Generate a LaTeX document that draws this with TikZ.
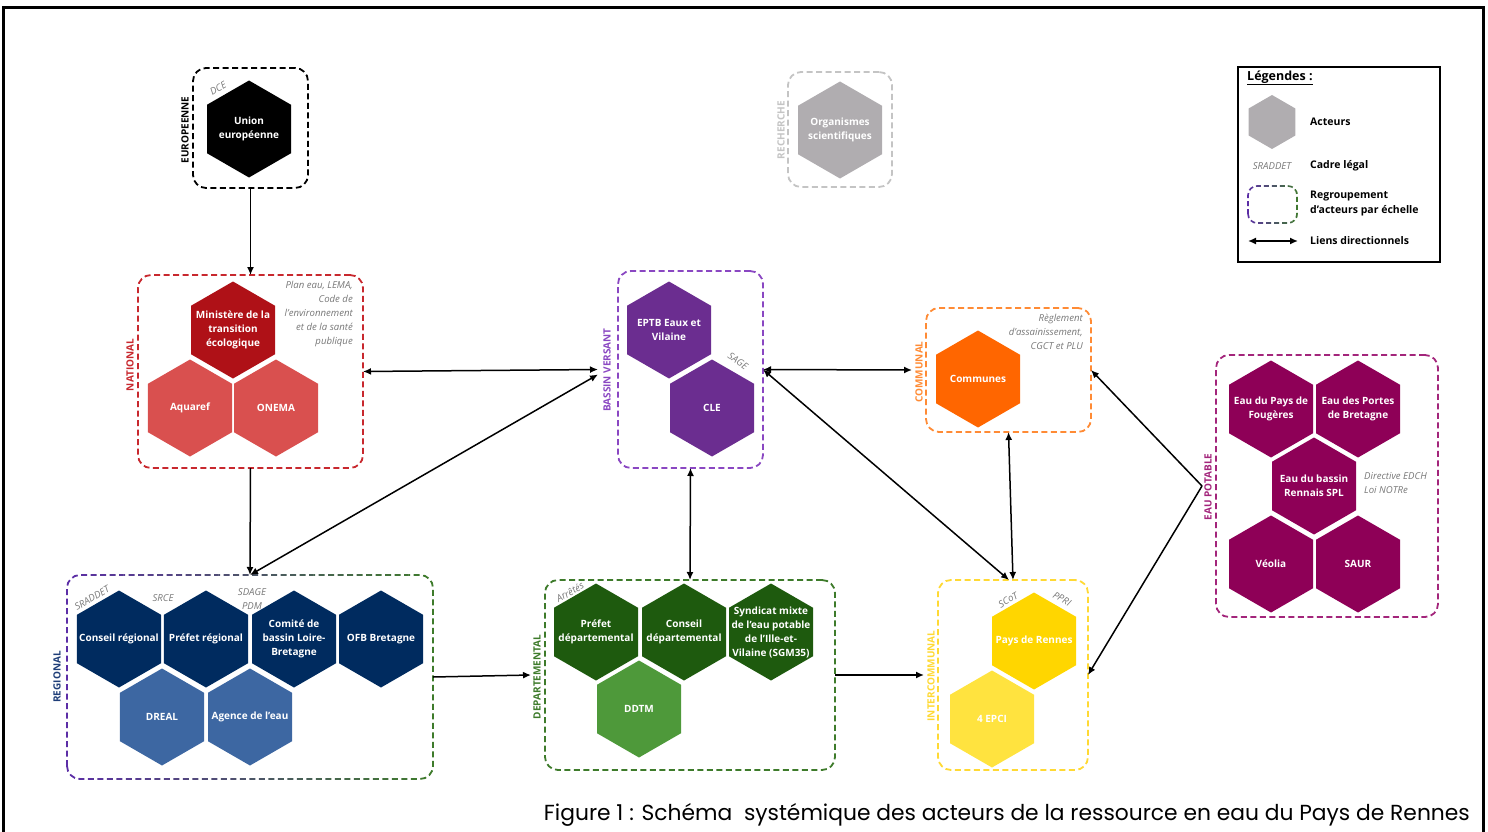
\documentclass[tikz,border=0pt]{standalone}
\usepackage{fontspec}
\setmainfont{Open Sans}
\newfontfamily\capfont{Poppins}
\usetikzlibrary{shapes.geometric,arrows.meta,fit}
\definecolor{euF}{HTML}{000000}
\definecolor{resF}{HTML}{B0ADB0}
\definecolor{resL}{HTML}{C4C4C4}
\definecolor{natD}{HTML}{AF1117}
\definecolor{natL}{HTML}{D9504F}
\definecolor{natB}{HTML}{C8282E}
\definecolor{bvF}{HTML}{6B2D90}
\definecolor{bvB}{HTML}{8A47C2}
\definecolor{comF}{HTML}{FF6600}
\definecolor{comB}{HTML}{FF8B35}
\definecolor{epF}{HTML}{8E0057}
\definecolor{epB}{HTML}{A3257B}
\definecolor{regD}{HTML}{002B5F}
\definecolor{regL}{HTML}{3D67A2}
\definecolor{regT}{HTML}{1F3E78}
\definecolor{gradA}{HTML}{5C2EA6}
\definecolor{gradB}{HTML}{3E7B2B}
\definecolor{depD}{HTML}{1E5A0E}
\definecolor{depL}{HTML}{4E993A}
\definecolor{depB}{HTML}{3E7B2B}
\definecolor{icD}{HTML}{FFD600}
\definecolor{icL}{HTML}{FFE33F}
\definecolor{icB}{HTML}{FFD934}
\definecolor{legal}{HTML}{777777}
\newcommand\hexfont{\bfseries\fontsize{10}{14}\selectfont}
\newcommand\lblfont{\bfseries\fontsize{10}{11}\selectfont}
\newcommand\legfont{\itshape\fontsize{9.6}{14}\selectfont}
\tikzset{
  hex/.style={regular polygon, regular polygon sides=6, shape border rotate=30,
    minimum size=97pt, inner sep=0pt, outer sep=0pt, fill=#1},
  htxt/.style={text=white, font=\hexfont, align=center, inner sep=0pt},
  grp/.style={draw=#1, dash pattern=on 6pt off 3.5pt, line width=1.8pt,
    rounded corners=13pt, inner sep=0pt, outer sep=0pt},
  grpin/.style={inner sep=0pt, outer sep=0pt},
  gline/.style={dash pattern=on 6pt off 3.5pt, line width=1.8pt, rounded corners=13pt},
  scale lbl/.style={rotate=90, font=\lblfont, text=#1, inner sep=0pt},
  legaltxt/.style={font=\legfont, text=legal, inner sep=0pt},
  a1/.style={line width=1.5pt, -{Latex[length=8pt,width=7pt]}},
  a2/.style={line width=1.5pt, {Latex[length=8pt,width=7pt]}-{Latex[length=8pt,width=7pt]}},
  ltxt/.style={font=\bfseries\fontsize{10.5}{15}\selectfont, anchor=west, align=left, inner sep=0pt}
}
\begin{document}
\begin{tikzpicture}[x=1pt,y=-1pt]
\useasboundingbox (0,0) rectangle (1488,832);
% outer frame
\draw[line width=3pt] (3,832) -- (3,8) -- (1483,8) -- (1483,832);

% ---------- group boxes ----------
\node[grp=black, fit={(193,68) (308,188)}] (eu) {};
\node[grp=resL, fit={(788,72) (892,187)}] (res) {};
\node[grp=natB, fit={(138,275) (363,468)}] (nat) {};
\node[grp=bvB, fit={(618,271) (763,468)}] (bv) {};
\node[grp=comB, fit={(926,308) (1091,432)}] (com) {};
\node[grp=epB, fit={(1216,355) (1438,617)}] (ep) {};
\node[grpin, fit={(67,575) (433,779)}] (reg) {};
\node[grp=depB, fit={(545,580) (835,770)}] (dep) {};
\node[grp=icB, fit={(938,580) (1088,770)}] (ic) {};
\node[grpin, fit={(1248,186) (1297,223)}] (lgbox) {};

% gradient dashed boxes
\foreach \i in {0,...,23}{
  \pgfmathsetmacro\pct{100*\i/23}
  \pgfmathsetmacro\xa{60+\i*(380/24)}
  \pgfmathsetmacro\xb{60+(\i+1)*(380/24)+0.3}
  \begin{scope}
    \clip (\xa,560) rectangle (\xb,795);
    \draw[gline, draw=gradB!\pct!gradA] (reg.south west) rectangle (reg.north east);
  \end{scope}
}
\foreach \i in {0,...,11}{
  \pgfmathsetmacro\pct{100*\i/11}
  \pgfmathsetmacro\xa{1244+\i*(58/12)}
  \pgfmathsetmacro\xb{1244+(\i+1)*(58/12)+0.3}
  \begin{scope}
    \clip (\xa,180) rectangle (\xb,230);
    \draw[dash pattern=on 5pt off 3pt, line width=1.6pt, rounded corners=9pt, draw=gradB!\pct!gradA] (lgbox.south west) rectangle (lgbox.north east);
  \end{scope}
}

% ---------- scale labels ----------
\node[scale lbl=black] at (185,130) {EUROPEENNE};
\node[scale lbl=resL] at (781,130) {RECHERCHE};
\node[scale lbl=natB] at (130,365) {NATIONAL};
\node[scale lbl=bvB] at (607,370) {BASSIN VERSANT};
\node[scale lbl=comB] at (919,372) {COMMUNAL};
\node[scale lbl=epB] at (1208,487) {EAU POTABLE};
\node[scale lbl=regT] at (57,677) {REGIONAL};
\node[scale lbl=depB] at (537,677) {DEPARTEMENTAL};
\node[scale lbl=icB] at (931,676) {INTERCOMMUNAL};

% ---------- hexagons ----------
\node[hex=euF] (ue) at (249,129) {};
\node[htxt] at (ue) {Union\\européenne};
\node[hex=resF] (org) at (840,130) {};
\node[htxt] at (org) {Organismes\\scientifiques};

\node[hex=natD] (min) at (233,330) {};
\node[htxt] at (min) {Ministère de la\\transition\\écologique};
\node[hex=natL] (aqu) at (190,408) {};
\node[htxt] at (aqu) {Aquaref};
\node[hex=natL] (one) at (276,408) {};
\node[htxt] at (one) {ONEMA};

\node[hex=bvF] (eptb) at (669,330) {};
\node[htxt] at (eptb) {EPTB Eaux et\\Vilaine};
\node[hex=bvF] (cle) at (712,408) {};
\node[htxt] at (cle) {CLE};

\node[hex=comF] (cmn) at (978,379) {};
\node[htxt] at (cmn) {Communes};

\node[hex=epF] (foug) at (1271,409) {};
\node[htxt] at (foug) {Eau du Pays de\\Fougères};
\node[hex=epF] (port) at (1358,409) {};
\node[htxt] at (port) {Eau des Portes\\de Bretagne};
\node[hex=epF] (spl) at (1314,486) {};
\node[htxt] at (spl) {Eau du bassin\\Rennais SPL};
\node[hex=epF] (veo) at (1271,564) {};
\node[htxt] at (veo) {Véolia};
\node[hex=epF] (saur) at (1358,564) {};
\node[htxt] at (saur) {SAUR};

\node[hex=regD] (creg) at (119,639) {};
\node[htxt] at (creg) {Conseil régional};
\node[hex=regD] (preg) at (206,639) {};
\node[htxt] at (preg) {Préfet régional};
\node[hex=regD] (cbas) at (294,639) {};
\node[htxt] at (cbas) {Comité de\\bassin Loire-\\Bretagne};
\node[hex=regD] (ofb) at (381,639) {};
\node[htxt] at (ofb) {OFB Bretagne};
\node[hex=regL] (dreal) at (162,717) {};
\node[htxt] at (dreal) {DREAL};
\node[hex=regL] (agence) at (250,717) {};
\node[htxt] at (agence) {Agence de l'eau};

\node[hex=depD] (pdep) at (596,632) {};
\node[htxt] at (pdep) {Préfet\\départemental};
\node[hex=depD] (cdep) at (684,632) {};
\node[htxt] at (cdep) {Conseil\\départemental};
\node[hex=depD] (smep) at (771,632) {};
\node[htxt] at (smep) {Syndicat mixte\\de l'eau potable\\de l'Ille-et-\\Vilaine (SGM35)};
\node[hex=depL] (ddtm) at (639,709) {};
\node[htxt] at (ddtm) {DDTM};

\node[hex=icD] (pdr) at (1034,641) {};
\node[htxt] at (pdr) {Pays de Rennes};
\node[hex=icL] (epci) at (992,719) {};
\node[htxt] at (epci) {4 EPCI};

% ---------- legal texts ----------
\node[legaltxt, rotate=30] at (218,88) {DCE};
\node[legaltxt, anchor=north east, align=right] at (353,281) {Plan eau, LEMA,\\Code de\\l'environnement\\et de la santé\\publique};
\node[legaltxt, rotate=-35] at (738,361) {SAGE};
\node[legaltxt, anchor=north east, align=right] at (1083,314) {Règlement\\d'assainissement,\\CGCT et PLU};
\node[legaltxt, anchor=north west, align=left] at (1364,472) {Directive EDCH\\Loi NOTRe};
\node[legaltxt, rotate=30] at (92,598) {SRADDET};
\node[legaltxt] at (163,598) {SRCE};
\node[legaltxt, align=center] at (252,599) {SDAGE\\PDM};
\node[legaltxt, rotate=30] at (570,592) {Arrêtés};
\node[legaltxt, rotate=30] at (1008,600) {SCoT};
\node[legaltxt, rotate=-30] at (1062,599) {PPRI};

% ---------- connectors ----------
\draw[a1] (eu.south) -- (nat.north);
\draw[a2] (nat.east) -- ([xshift=-20pt]bv.west);
\draw[a1] (nat.south) -- (reg.north);
\draw[a2] (reg.north) -- ([xshift=-20pt,yshift=-5pt]bv.west);
\draw[a2] (bv.south) -- (dep.north);
\draw[a2] (bv.east) -- ([xshift=-14pt]com.west);
\draw[a2] (bv.east) -- ([xshift=-4pt]ic.north);
\draw[a2] (com.south) -- (ic.north);
\coordinate (epin) at ([xshift=-14pt]ep.west);
\draw[a1] (epin) -- (com.east);
\draw[a1] (epin) -- (ic.east);
\draw[a1] (reg.east) -- ([xshift=-14pt]dep.west);
\draw[a1] (dep.east) -- ([xshift=-14pt]ic.west);

% ---------- legend ----------
\node[draw=black, line width=1.8pt, inner sep=0pt, fit={(1238,67) (1440,262)}] (leg) {};
\node[font=\bfseries\fontsize{12.5}{14}\selectfont, anchor=west, inner sep=0pt] (legt) at (1247,78) {\underline{Légendes :}};
\node[regular polygon, regular polygon sides=6, shape border rotate=30, minimum size=54pt, inner sep=0pt, fill=resF] (lghex) at (1272,122) {};
\node[ltxt] (lgact) at (1310,122) {Acteurs};
\node[legaltxt] (lgsr) at (1272,166) {SRADDET};
\node[ltxt] (lgcad) at (1310,166) {Cadre légal};
\node[ltxt] (lgreg) at (1310,204) {Regroupement\\d'acteurs par échelle};
\coordinate (lgA) at (1248,241);
\coordinate (lgB) at (1298,241);
\draw[a2] (lgA) -- (lgB);
\node[ltxt] (lglien) at (1310,241) {Liens directionnels};

% ---------- caption ----------
\node[font=\capfont\fontsize{21.8}{26}\selectfont, anchor=base east, inner sep=0pt] (cap) at (1470,820) {Figure 1 : Schéma\ \ systémique des acteurs de la ressource en eau du Pays de Rennes};
\end{tikzpicture}
\end{document}
